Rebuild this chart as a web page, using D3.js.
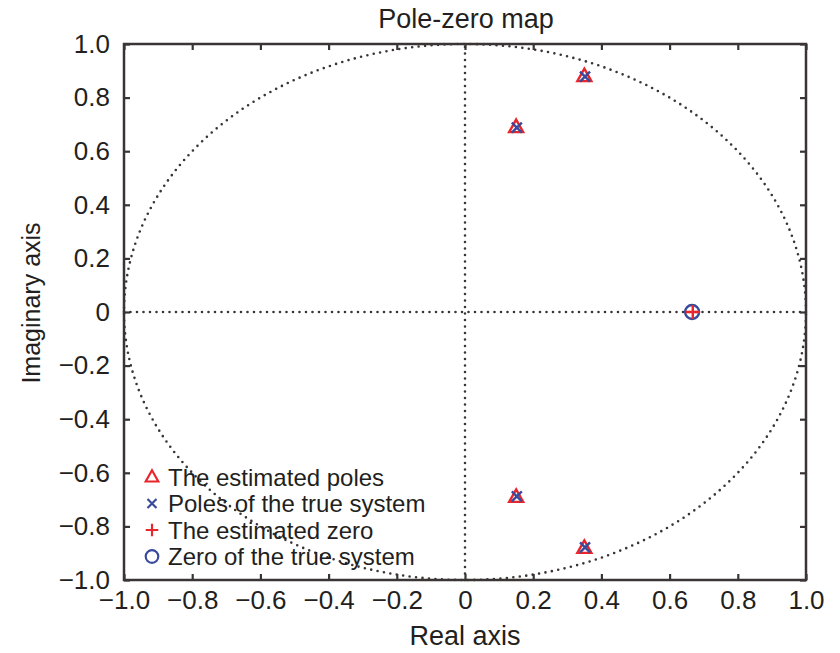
<!DOCTYPE html>
<html>
<head>
<meta charset="utf-8">
<script src="https://cdn.jsdelivr.net/npm/d3@7"></script>
<style>
  body { margin: 0; background: #fff; }
  text { font-family: "Liberation Sans", Arial, sans-serif; fill: #231f20; }
</style>
</head>
<body>
<svg id="chart" width="840" height="653"></svg>
<script>
// pole-zero data
var estPoles = [[0.35, 0.88], [0.15, 0.69], [0.15, -0.69], [0.35, -0.88]];
var truePoles = [[0.352, 0.878], [0.152, 0.688], [0.152, -0.688], [0.352, -0.878]];
var estZero = [[0.668, 0]];
var trueZero = [[0.666, 0]];
var ticks = [-1.0, -0.8, -0.6, -0.4, -0.2, 0, 0.2, 0.4, 0.6, 0.8, 1.0];
var legendItems = ['The estimated poles', 'Poles of the true system', 'The estimated zero', 'Zero of the true system'];

var red = '#e8262b', blue = '#3a4a9a', ink = '#3a3435';

var svg = d3.select('#chart');
var pLeft = 124, pRight = 806, pTop = 44, pBottom = 580;

var x = d3.scaleLinear().domain([-1, 1]).range([pLeft, pRight]);
var y = d3.scaleLinear().domain([-1, 1]).range([pBottom, pTop]);

function fmt(d) {
  if (d === 0) return '0';
  return (d < 0 ? '\u2212' : '') + Math.abs(d).toFixed(1);
}

// unit circle, dotted
var circ = d3.range(0, 361, 1).map(function(a) {
  var t = a * Math.PI / 180;
  return [Math.cos(t), Math.sin(t)];
});
var line = d3.line().x(function(d) { return x(d[0]); }).y(function(d) { return y(d[1]); });
svg.append('path').datum(circ).attr('d', line)
  .attr('fill', 'none').attr('stroke', ink).attr('stroke-width', 2.6)
  .attr('stroke-dasharray', '0 6.5').attr('stroke-linecap', 'round');

// zero lines
svg.append('line').attr('x1', x(-1)).attr('x2', x(1)).attr('y1', y(0)).attr('y2', y(0))
  .attr('stroke', ink).attr('stroke-width', 2.6).attr('stroke-dasharray', '0 6.5').attr('stroke-linecap', 'round');
svg.append('line').attr('x1', x(0)).attr('x2', x(0)).attr('y1', y(-1)).attr('y2', y(1))
  .attr('stroke', ink).attr('stroke-width', 2.6).attr('stroke-dasharray', '0 6.5').attr('stroke-linecap', 'round');

// axes with inward ticks
function styleAxis(g) {
  g.select('.domain').remove();
  g.selectAll('.tick line').attr('stroke', ink).attr('stroke-width', 2.2);
  g.selectAll('.tick text').style('font-size', '26px').attr('fill', '#231f20');
}
svg.append('g').attr('transform', 'translate(0,' + pBottom + ')')
  .call(d3.axisBottom(x).tickValues(ticks).tickFormat(fmt).tickSizeInner(-6).tickPadding(11))
  .call(styleAxis);
svg.append('g').attr('transform', 'translate(0,' + pTop + ')')
  .call(d3.axisTop(x).tickValues(ticks).tickFormat('').tickSizeInner(-6))
  .call(styleAxis);
svg.append('g').attr('transform', 'translate(' + pLeft + ',0)')
  .call(d3.axisLeft(y).tickValues(ticks).tickFormat(fmt).tickSizeInner(-6).tickPadding(14))
  .call(styleAxis);
svg.append('g').attr('transform', 'translate(' + pRight + ',0)')
  .call(d3.axisRight(y).tickValues(ticks).tickFormat('').tickSizeInner(-6))
  .call(styleAxis);

// frame
svg.append('rect').attr('x', pLeft).attr('y', pTop).attr('width', pRight - pLeft).attr('height', pBottom - pTop)
  .attr('fill', 'none').attr('stroke', ink).attr('stroke-width', 2.5);

// marker shapes
function triangle(g) {
  g.append('path').attr('d', 'M0,-7.5L7,5L-7,5Z').attr('fill', 'none').attr('stroke', red).attr('stroke-width', 2.4);
}
function cross(g) {
  g.append('path').attr('d', 'M-5,-5L5,5M-5,5L5,-5').attr('stroke', blue).attr('stroke-width', 2.4);
}
function plus(g) {
  g.append('path').attr('d', 'M-7,0L7,0M0,-7L0,7').attr('stroke', red).attr('stroke-width', 2.4);
}
function ring(g) {
  g.append('circle').attr('r', 7).attr('fill', 'none').attr('stroke', blue).attr('stroke-width', 2.4);
}

function drawMarkers(data, shape) {
  svg.append('g').selectAll('g').data(data).enter().append('g')
    .attr('transform', function(d) { return 'translate(' + x(d[0]) + ',' + y(d[1]) + ')'; })
    .each(function() { shape(d3.select(this)); });
}
drawMarkers(estPoles, triangle);
drawMarkers(truePoles, cross);
drawMarkers(trueZero, ring);
drawMarkers(estZero, plus);

// legend
var shapes = [triangle, cross, plus, ring];
var leg = svg.append('g').attr('transform', 'translate(152,477)');
leg.selectAll('g').data(legendItems).enter().append('g')
  .attr('transform', function(d, i) { return 'translate(0,' + (i * 26.5) + ')'; })
  .each(function(d, i) {
    var g = d3.select(this);
    var m = g.append('g').attr('transform', 'scale(0.9)');
    shapes[i](m);
    g.append('text').attr('x', 16).attr('y', 8.5).style('font-size', '24px').text(d);
  });

// titles
svg.append('text').attr('x', 466).attr('y', 28).attr('text-anchor', 'middle')
  .style('font-size', '27px').text('Pole-zero map');
svg.append('text').attr('x', 465).attr('y', 645).attr('text-anchor', 'middle')
  .style('font-size', '27px').text('Real axis');
svg.append('text').attr('transform', 'translate(40,303) rotate(-90)').attr('text-anchor', 'middle')
  .style('font-size', '25px').text('Imaginary axis');
</script>
</body>
</html>
